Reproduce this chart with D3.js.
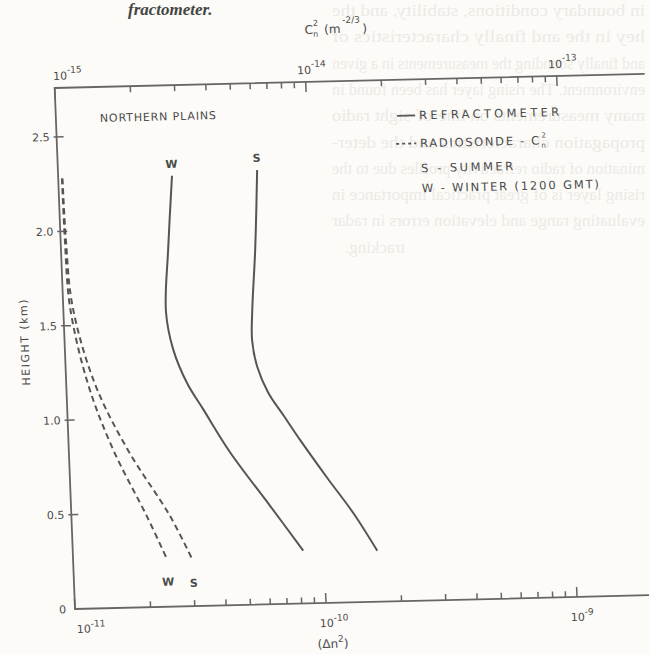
<!DOCTYPE html>
<html lang="en">
<head>
<meta charset="UTF-8">
<title>Northern Plains profiles</title>
<script src="https://cdn.jsdelivr.net/npm/d3@7"></script>
<style>
  body { margin: 0; background: #fcfbf8; }
  svg { display: block; }
  text { font-family: "DejaVu Sans", "Liberation Sans", sans-serif; fill: #4a4a4a; }
</style>
</head>
<body>
<svg width="649" height="654"></svg>
<script>
// refractometer profiles (solid), height in km vs (delta n)^2
var heightRefrW = [2.28, 1.89, 1.56, 1.36, 1.18, 1.04, 0.81, 0.52, 0.28];
var dn2RefrW    = [2.84e-11, 2.67e-11, 2.56e-11, 2.70e-11, 3.03e-11, 3.48e-11, 4.38e-11, 6.21e-11, 8.27e-11];
var heightRefrS = [2.30, 1.88, 1.56, 1.40, 1.26, 1.12, 1.00, 0.865, 0.66, 0.47, 0.27];
var dn2RefrS    = [6.21e-11, 5.93e-11, 5.65e-11, 5.58e-11, 5.79e-11, 6.35e-11, 7.23e-11, 8.37e-11, 1.06e-10, 1.33e-10, 1.63e-10];

// radiosonde derived profiles (dashed)
var heightSondeW = [2.28, 1.95, 1.60, 1.19, 0.84, 0.48, 0.25];
var dn2SondeW    = [1.035e-11, 1.04e-11, 1.064e-11, 1.22e-11, 1.50e-11, 2.0e-11, 2.37e-11];
var heightSondeS = [2.28, 1.95, 1.60, 1.19, 0.84, 0.48, 0.24];
var dn2SondeS    = [1.04e-11, 1.05e-11, 1.09e-11, 1.30e-11, 1.71e-11, 2.47e-11, 3.0e-11];

var heightTicks  = [0, 0.5, 1.0, 1.5, 2.0, 2.5];
var heightLabels = ["0", "0.5", "1.0", "1.5", "2.0", "2.5"];

var legendLabels = ["REFRACTOMETER", "RADIOSONDE - C", "S - SUMMER", "W - WINTER (1200 GMT)"];

// faint show-through text from the back of the page (appears mirrored)
var pageLines = [
  "in boundary conditions, stability, and the",
  "hey in the and finally characteristics of",
  "and finally sounding the measurements in a given",
  "environment. The rising layer has been found in",
  "many measurements on line-of-sight radio",
  "propagation characteristics and the deter-",
  "mination of radio refractivity profiles due to the",
  "rising layer is of great practical importance in",
  "evaluating range and elevation errors in radar",
  "tracking."
];

var svg = d3.select("svg");

svg.append("g")
  .attr("transform", "translate(977,0) scale(-1,1)")
  .selectAll("text")
  .data(pageLines)
  .join("text")
  .attr("x", function(d, i) { return i == 9 ? 572 : 332; })
  .attr("y", function(d, i) { return 16 + i * 26.3; })
  .attr("textLength", function(d, i) { return i == 9 ? 60 : 313; })
  .attr("lengthAdjust", "spacingAndGlyphs")
  .style("font-family", "Liberation Serif, serif")
  .style("font-size", "17px")
  .style("fill", "#eceae6")
  .text(function(d) { return d; });

svg.append("text")
  .attr("x", 128).attr("y", 15)
  .style("font-family", "Liberation Serif, serif")
  .style("font-style", "italic").style("font-weight", "bold")
  .style("font-size", "17px").style("fill", "#444")
  .text("fractometer.");

// the scan is slightly rotated / sheared, keep that in one transform
var g = svg.append("g").attr("transform", "matrix(1,-0.024,0.039,1,75,609)");

var boxW = 590, boxH = 521;

var x = d3.scaleLog().domain([1e-11, 1e-9]).range([0, 502]);
var xTop = d3.scaleLog().domain([1e-15, 1e-13]).range([0, 502]);
var y = d3.scaleLinear().domain([0, 2.5]).range([0, -472]);

var ink = "#555";

// frame
g.append("path")
  .attr("d", "M" + boxW + ",0 H0 V" + (-boxH) + " H" + boxW)
  .attr("fill", "none").attr("stroke", "#666").attr("stroke-width", 1.8);

function isMajor(d) { return Math.abs(Math.log10(d) - Math.round(Math.log10(d))) < 1e-6; }

// bottom ticks (pointing in)
g.append("g").selectAll("line")
  .data(x.ticks())
  .join("line")
  .attr("x1", function(d) { return x(d); }).attr("x2", function(d) { return x(d); })
  .attr("y1", 0).attr("y2", function(d) { return isMajor(d) ? -10 : -6; })
  .attr("stroke", "#666").attr("stroke-width", 1.5);

var bl = g.append("g").selectAll("text")
  .data(x.ticks().filter(isMajor))
  .join("text")
  .attr("x", function(d, i) { return i == 0 ? x(d) + 1 : x(d) - 7; })
  .attr("y", 24)
  .style("font-size", "11px");
bl.append("tspan").text("10");
bl.append("tspan").attr("dy", -6).style("font-size", "9px")
  .text(function(d) { return Math.round(Math.log10(d)); });

// top ticks
g.append("g").selectAll("line")
  .data(xTop.ticks())
  .join("line")
  .attr("x1", function(d) { return xTop(d); }).attr("x2", function(d) { return xTop(d); })
  .attr("y1", -boxH).attr("y2", function(d) { return -boxH + (isMajor(d) ? 10 : 6); })
  .attr("stroke", "#666").attr("stroke-width", 1.5);

var tl = g.append("g").selectAll("text")
  .data(xTop.ticks().filter(isMajor))
  .join("text")
  .attr("x", function(d, i) { return i == 0 ? xTop(d) - 1 : xTop(d) - 8; })
  .attr("y", -boxH - 8)
  .style("font-size", "11px");
tl.append("tspan").text("10");
tl.append("tspan").attr("dy", -7).style("font-size", "9px")
  .text(function(d) { return Math.round(Math.log10(d)); });

// left ticks
g.append("g").selectAll("line")
  .data(heightTicks.slice(1))
  .join("line")
  .attr("x1", -3).attr("x2", 7)
  .attr("y1", function(d) { return y(d); }).attr("y2", function(d) { return y(d); })
  .attr("stroke", "#666").attr("stroke-width", 1.5);

g.append("g").selectAll("text")
  .data(heightTicks)
  .join("text")
  .attr("x", function(d) { return d == 0 ? -9 : -7; })
  .attr("y", function(d) { return y(d) + 4; })
  .attr("text-anchor", "end")
  .style("font-size", "11px")
  .text(function(d, i) { return heightLabels[i]; });

g.append("text")
  .attr("transform", "translate(-36," + y(1.42) + ") rotate(-90)")
  .attr("text-anchor", "middle")
  .style("font-size", "11px").style("letter-spacing", "1.5px")
  .text("HEIGHT (km)");

// axis titles
var tt = g.append("text").attr("x", 252).attr("y", -569).style("font-size", "12px");
tt.append("tspan").text("C");
tt.append("tspan").attr("dy", 3).style("font-size", "8px").text("n");
tt.append("tspan").attr("dx", -5).attr("dy", -11).style("font-size", "8px").text("2");
tt.append("tspan").attr("dx", 6).attr("dy", 8).text("(m");
tt.append("tspan").attr("dx", 2).attr("dy", -10).style("font-size", "9px").text("-2/3");
tt.append("tspan").attr("dx", 2).attr("dy", 10).text(")");

var bt = g.append("text").attr("x", 241).attr("y", 45).style("font-size", "12px");
bt.append("tspan").text("(\u0394n");
bt.append("tspan").attr("dy", -6).style("font-size", "9px").text("2");
bt.append("tspan").attr("dy", 6).text(")");

g.append("text")
  .attr("x", 44).attr("y", -486)
  .style("font-size", "11px")
  .attr("textLength", 116).attr("lengthAdjust", "spacing")
  .text("NORTHERN PLAINS");

// curves
var line = d3.line()
  .x(function(d) { return x(d[0]); })
  .y(function(d) { return y(d[1]); })
  .curve(d3.curveCatmullRom.alpha(0.5));

var curves = [
  { v: dn2RefrW, h: heightRefrW, dash: null },
  { v: dn2RefrS, h: heightRefrS, dash: null },
  { v: dn2SondeW, h: heightSondeW, dash: "6,4" },
  { v: dn2SondeS, h: heightSondeS, dash: "6,4" }
];

g.append("g").selectAll("path")
  .data(curves)
  .join("path")
  .attr("d", function(c) { return line(d3.zip(c.v, c.h)); })
  .attr("fill", "none")
  .attr("stroke", ink)
  .attr("stroke-width", 2)
  .attr("stroke-dasharray", function(c) { return c.dash; });

// season letters at the curve ends
var ends = [
  { t: "W", v: dn2RefrW[0], h: heightRefrW[0], dy: -8 },
  { t: "S", v: dn2RefrS[0], h: heightRefrS[0], dy: -8 },
  { t: "W", v: dn2SondeW[dn2SondeW.length - 1], h: heightSondeW[heightSondeW.length - 1], dy: 26 },
  { t: "S", v: dn2SondeS[dn2SondeS.length - 1], h: heightSondeS[heightSondeS.length - 1], dy: 26 }
];
g.append("g").selectAll("text")
  .data(ends)
  .join("text")
  .attr("x", function(d) { return x(d.v); })
  .attr("y", function(d) { return y(d.h) + d.dy; })
  .attr("text-anchor", "middle")
  .style("font-size", "11px").style("font-weight", "bold")
  .text(function(d) { return d.t; });

// legend
var lg = g.append("g");
var rowY = [-481, -453, -428, -408];
lg.append("line").attr("x1", 341).attr("x2", 359).attr("y1", rowY[0] - 4).attr("y2", rowY[0] - 4)
  .attr("stroke", ink).attr("stroke-width", 1.8);
lg.append("line").attr("x1", 339).attr("x2", 359).attr("y1", rowY[1] - 4).attr("y2", rowY[1] - 4)
  .attr("stroke", ink).attr("stroke-width", 1.8).attr("stroke-dasharray", "3,3");
var lens = [140, 119, 92, 177];
lg.selectAll("text.leg")
  .data(legendLabels)
  .join("text")
  .attr("class", "leg")
  .attr("x", 363)
  .attr("y", function(d, i) { return rowY[i]; })
  .style("font-size", "11.5px")
  .attr("textLength", function(d, i) { return lens[i]; })
  .attr("lengthAdjust", "spacing")
  .text(function(d) { return d; });
var sub = lg.append("text").attr("x", 484).attr("y", rowY[1]).style("font-size", "11px");
sub.append("tspan").attr("dy", 3).style("font-size", "7px").text("n");
sub.append("tspan").attr("dx", -4).attr("dy", -10).style("font-size", "7px").text("2");
</script>
</body>
</html>
